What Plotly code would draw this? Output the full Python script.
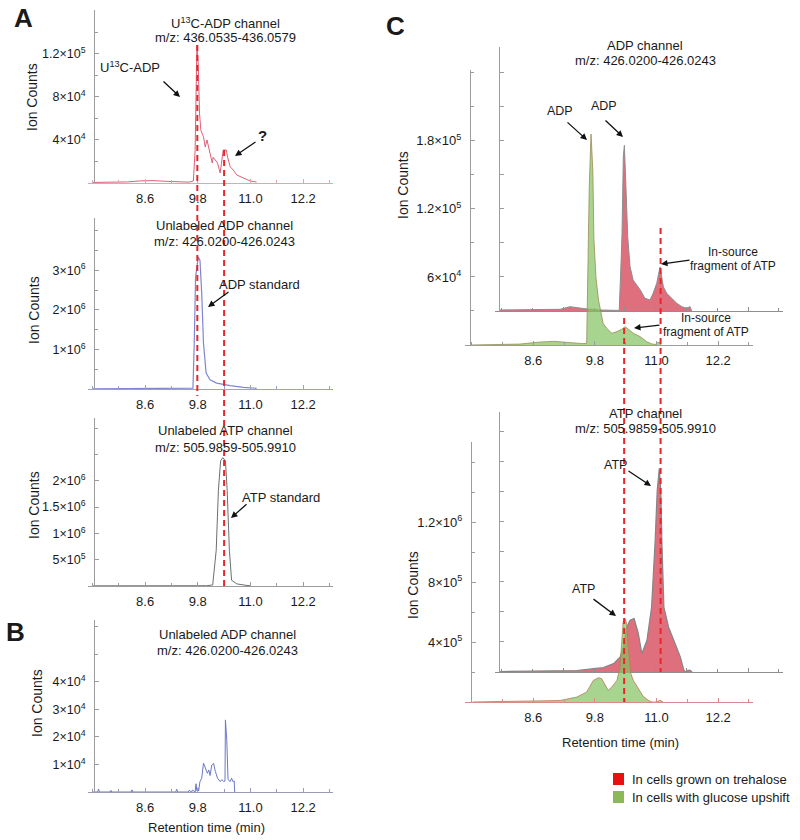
import plotly.graph_objects as go

W, H = 800, 840
def px(x): return x / W
def py(y): return 1 - y / H

# ---------------- data ----------------
x_ticks = [8.6, 9.8, 11.0, 12.2]
x_tick_text = ["8.6", "9.8", "11.0", "12.2"]
x_minor = [7.4, 8.0, 9.2, 10.4, 11.6, 12.8]

# Panel A1: U13C-ADP channel
a1_x = [7.40, 7.80, 8.20, 8.50, 8.80, 9.10, 9.40, 9.60, 9.70, 9.74, 9.78, 9.81, 9.84, 9.87, 9.93, 9.97,
        10.01, 10.08, 10.13, 10.15, 10.25, 10.31, 10.38, 10.45, 10.48, 10.54, 10.61, 10.69, 10.84, 10.99, 11.14]
a1_y = [500, 700, 1000, 2000, 2200, 1500, 900, 800, 1900, 30700, 128300, 111600, 65000, 49000, 43000, 33500,
        40000, 28000, 18600, 24000, 18600, 9300, 30700, 30700, 24000, 15000, 12000, 7400, 4600, 1900, 900]

# Panel A2: unlabeled ADP channel (ADP standard)
a2_x = [7.40, 8.50, 9.60, 9.69, 9.72, 9.75, 9.81, 9.85, 9.89, 9.93, 9.99, 10.08, 10.23, 10.54, 10.84, 11.14]
a2_y = [5000, 8000, 10000, 20000, 1160000, 2820000, 3330000, 3250000, 2420000, 1160000, 400000, 230000,
        150000, 83000, 43000, 18000]

# Panel A3: unlabeled ATP channel (ATP standard)
a3_x = [7.40, 9.00, 10.00, 10.14, 10.22, 10.27, 10.32, 10.37, 10.43, 10.47, 10.52, 10.57, 10.69, 10.92, 11.00]
a3_y = [3000, 4000, 5000, 20000, 680000, 1820000, 2380000, 2440000, 2380000, 1820000, 680000, 110000,
        40000, 10000, 5000]

# Panel B: unlabeled ADP channel
b_x = [7.40, 7.52, 7.54, 7.56, 7.80, 7.82, 7.84, 8.28, 8.30, 8.32, 9.30, 9.32, 9.34, 9.58, 9.60, 9.66, 9.68,
       9.74, 9.76, 9.78, 9.80, 9.82, 9.85, 9.89, 9.93, 9.97, 10.02, 10.05, 10.08, 10.12, 10.16, 10.20, 10.25,
       10.31, 10.35, 10.39, 10.42, 10.43, 10.46, 10.49, 10.54, 10.57, 10.60, 10.63, 10.64]
b_y = [0, 0, 1100, 0, 0, 600, 0, 0, 800, 0, 0, 1000, 0, 0, 600, 0, 700,
       0, 3000, 500, 1500, 400, 3800, 5000, 10500, 8500, 6800, 8000, 6000, 9800, 10400, 7500, 5000,
       3800, 4500, 3800, 4000, 26200, 19000, 4500, 3800, 5000, 3800, 4000, 0]

# Panel C top: ADP channel
c1_green_x = [7.37, 7.90, 8.34, 8.70, 8.83, 9.00, 9.12, 9.41, 9.57, 9.64, 9.66, 9.69, 9.725, 9.76, 9.78, 9.82,
              9.87, 9.91, 9.96, 10.03, 10.13, 10.23, 10.32, 10.39, 10.45, 10.55, 10.68, 10.81, 10.91, 10.99,
              11.03, 11.05, 11.07, 11.09]
c1_green_y = [0, 500, 800, 2500, 2900, 3200, 2800, 1500, 1200, 1500, 51000, 139000, 186000, 154000, 95000,
              60000, 39700, 29400, 19100, 14700, 10300, 11800, 13800, 16200, 13800, 10300, 7400, 2900, 900,
              500, 2500, 2000, 2500, 0]
c1_red_x = [7.37, 7.95, 8.54, 8.73, 8.92, 9.06, 9.31, 9.69, 9.72, 9.744, 9.77, 9.79, 9.82, 9.855, 9.90, 9.96,
            10.03, 10.10, 10.19, 10.29, 10.35, 10.42, 10.485, 10.55, 10.615, 10.71, 10.81, 10.91, 11.00,
            11.07, 11.10]
c1_red_y = [900, 900, 1500, 3800, 2600, 1800, 900, 500, 36000, 67000, 136000, 146000, 110000, 65700, 39300,
            27300, 22900, 18500, 11200, 9700, 15600, 24400, 38800, 21200, 15600, 11200, 6800, 3800, 2400,
            3800, 0]

# Panel C bottom: ATP channel
c2_green_x = [7.42, 8.20, 8.73, 9.12, 9.45, 9.64, 9.77, 9.87, 9.93, 10.00, 10.06, 10.13, 10.23, 10.29, 10.32,
              10.35, 10.39, 10.42, 10.45, 10.50, 10.55, 10.65, 10.74, 10.84, 10.91, 11.00, 11.07, 11.13]
c2_green_y = [0, 3000, 6000, 10000, 33000, 66700, 144000, 162000, 156000, 111000, 78000, 100000, 144000,
              233000, 411000, 533000, 555000, 522000, 367000, 189000, 144000, 89000, 38000, 11000, 0, 0,
              11000, 0]
c2_red_x = [7.37, 8.15, 8.86, 9.19, 9.38, 9.58, 9.71, 9.77, 9.84, 9.90, 9.98, 10.06, 10.13, 10.23, 10.32,
            10.39, 10.43, 10.47, 10.50, 10.52, 10.56, 10.65, 10.78, 10.88, 10.95, 10.99, 11.03, 11.07, 11.11]
c2_red_y = [3000, 5000, 10000, 22000, 29000, 56000, 100000, 167000, 300000, 345000, 356000, 260000, 122000,
            211000, 433000, 878000, 1211000, 1356000, 1211000, 878000, 433000, 300000, 189000, 100000, 11000,
            0, 11000, 11000, 0]

# retention times marked with dashed lines
a_marks = [9.79, 10.40]
c_marks = [10.37, 11.08]

legend_names = ["In cells grown on trehalose", "In cells with glucose upshift"]

# ---------------- style ----------------
FONT = "Arial, Liberation Sans, sans-serif"
AX = "#9c9c9c"
TXT = "#1a1a1a"
RED_FILL = "rgba(215,70,90,0.78)"
GREEN_FILL = "rgba(130,195,95,0.70)"
DASH_RED = "#e8262a"

fig = go.Figure()

def line_trace(x, y, xa, ya, color, width=1.0):
    fig.add_trace(go.Scatter(x=x, y=y, xaxis=xa, yaxis=ya, mode="lines",
                             line=dict(color=color, width=width), showlegend=False, hoverinfo="skip"))

def fill_trace(x, y, xa, ya, fillcolor, linecolor, width=1.0):
    fig.add_trace(go.Scatter(x=x, y=y, xaxis=xa, yaxis=ya, mode="lines", fill="tozeroy",
                             fillcolor=fillcolor, line=dict(color=linecolor, width=width),
                             showlegend=False, hoverinfo="skip"))

line_trace(a1_x, a1_y, "x", "y", "#dd5f7a", 1.0)
line_trace(a2_x, a2_y, "x2", "y2", "#7f86d0", 1.2)
line_trace(a3_x, a3_y, "x3", "y3", "#6e6e6e", 1.0)
line_trace(b_x, b_y, "x4", "y4", "#6b78c8", 1.0)
fill_trace(c1_red_x, c1_red_y, "x5", "y5", RED_FILL, "#8c8c8c", 1.0)
fill_trace(c1_green_x, c1_green_y, "x6", "y6", GREEN_FILL, "#9a8a55", 0.8)
fill_trace(c2_red_x, c2_red_y, "x7", "y7", RED_FILL, "#858585", 1.2)
fill_trace(c2_green_x, c2_green_y, "x8", "y8", GREEN_FILL, "#b57a55", 0.8)

A_RANGE = [7.30, 12.88]
C_RANGE = [7.27, 12.88]

def xaxis(x0, x1, rng, anchor, color=AX, labels=True):
    return dict(domain=[px(x0), px(x1)], range=rng, anchor=anchor, showline=True, linecolor=color,
                linewidth=1, ticks="inside", ticklen=4, tickcolor=color, tickmode="array",
                tickvals=x_ticks, ticktext=x_tick_text, showticklabels=labels,
                tickfont=dict(family=FONT, size=13, color=TXT),
                minor=dict(tickmode="array", tickvals=x_minor, ticks="inside", ticklen=3, tickcolor=color),
                showgrid=False, zeroline=False, fixedrange=True, ticklabelstandoff=3)

def yaxis(ybot, ytop, rng, pos, vals, texts, minor_vals, labels=True, size=12.5, color=AX):
    return dict(domain=[py(ybot), py(ytop)], range=rng, anchor="free", position=px(pos),
                showline=True, linecolor=color, linewidth=1, ticks="inside", ticklen=4, tickcolor=color,
                tickmode="array", tickvals=vals, ticktext=texts, showticklabels=labels,
                tickfont=dict(family=FONT, size=size, color=TXT),
                minor=dict(tickmode="array", tickvals=minor_vals, ticks="inside", ticklen=3, tickcolor=color),
                showgrid=False, zeroline=False, fixedrange=True, ticklabelstandoff=6)

def sci(m, e):
    return f"{m}×10<sup>{e}</sup>"

layout = dict(
    width=W, height=H, margin=dict(l=0, r=0, t=0, b=0),
    paper_bgcolor="white", plot_bgcolor="rgba(0,0,0,0)",
    font=dict(family=FONT, color=TXT), showlegend=False,
    xaxis=xaxis(88, 333, A_RANGE, "y", "#e3a3b2"),
    yaxis=yaxis(183, 10, [0, 160900], 94, [40000, 80000, 120000],
                [sci(4, 4), sci(8, 4), sci(1.2, 5)], [20000, 60000, 100000, 140000]),
    xaxis2=xaxis(88, 333, A_RANGE, "y2", "#9ea0c8"),
    yaxis2=yaxis(389, 218, [0, 4318000], 94, [1e6, 2e6, 3e6],
                 [sci(1, 6), sci(2, 6), sci(3, 6)], [5e5, 1.5e6, 2.5e6, 3.5e6, 4e6]),
    xaxis3=xaxis(88, 333, A_RANGE, "y3"),
    yaxis3=yaxis(586, 418, [0, 3194000], 94, [5e5, 1e6, 1.5e6, 2e6],
                 [sci(5, 5), sci(1, 6), sci(1.5, 6), sci(2, 6)], [2.5e6, 3e6]),
    xaxis4=xaxis(88, 333, A_RANGE, "y4", "#9a9cb8"),
    yaxis4=yaxis(792, 620, [0, 62500], 94, [1e4, 2e4, 3e4, 4e4],
                 [sci(1, 4), sci(2, 4), sci(3, 4), sci(4, 4)], [5e4, 6e4]),
    xaxis5=xaxis(495, 783, C_RANGE, "y5", "#8e8e8e", labels=False),
    yaxis5=yaxis(311, 47, [0, 232800], 499, [3e4, 6e4, 9e4, 1.2e5, 1.5e5, 1.8e5, 2.1e5],
                 [""] * 7, [], labels=False),
    xaxis6=xaxis(465, 753, C_RANGE, "y6"),
    yaxis6=yaxis(345, 70, [0, 242500], 470, [6e4, 1.2e5, 1.8e5],
                 [sci(6, 4), sci(1.2, 5), sci(1.8, 5)], [3e4, 9e4, 1.5e5, 2.1e5, 2.4e5], size=13),
    xaxis7=xaxis(495, 783, C_RANGE, "y7", "#8e8e8e", labels=False),
    yaxis7=yaxis(672, 412, [0, 1733000], 499, [2e5, 4e5, 6e5, 8e5, 1e6, 1.2e6, 1.4e6, 1.6e6],
                 [""] * 8, [], labels=False),
    xaxis8=xaxis(465, 753, C_RANGE, "y8", "#d98a8a"),
    yaxis8=yaxis(702, 442, [0, 1735000], 471, [4e5, 8e5, 1.2e6],
                 [sci(4, 5), sci(8, 5), sci(1.2, 6)], [2e5, 6e5, 1e6, 1.4e6, 1.6e6], size=13),
)
fig.update_layout(**layout)

# dashed retention-time markers
shapes = []
for xv, y0, y1 in [(a_marks[0], 45, 396), (a_marks[1], 150, 587)]:
    shapes.append(dict(type="line", xref="x", yref="paper", x0=xv, x1=xv, y0=py(y0), y1=py(y1),
                       line=dict(color=DASH_RED, width=2, dash="6px,4px"), layer="above"))
for xv, y0, y1 in [(c_marks[0], 318, 702), (c_marks[1], 228, 672)]:
    shapes.append(dict(type="line", xref="x6", yref="paper", x0=xv, x1=xv, y0=py(y0), y1=py(y1),
                       line=dict(color=DASH_RED, width=2, dash="6px,4px"), layer="above"))
# legend swatches
for (yy, col) in [(773, "#e81010"), (791, "#8db85a")]:
    shapes.append(dict(type="rect", xref="paper", yref="paper", x0=px(613), x1=px(624),
                       y0=py(yy + 12), y1=py(yy), fillcolor=col, line=dict(width=0)))
fig.update_layout(shapes=shapes)

ann = []
def text(x, y, s, size=13, bold=False, angle=0, xanchor="center"):
    ann.append(dict(x=px(x), y=py(y), xref="paper", yref="paper", text=(f"<b>{s}</b>" if bold else s),
                    showarrow=False, xanchor=xanchor, yanchor="middle", textangle=angle,
                    font=dict(family=FONT, size=size, color=TXT)))

def arrow(x0, y0, x1, y1):
    ann.append(dict(x=px(x1), y=py(y1), xref="paper", yref="paper", ax=x0 - x1, ay=y0 - y1,
                    text="", showarrow=True, arrowhead=2, arrowsize=1, arrowwidth=1.3,
                    arrowcolor="#111111", standoff=0, startstandoff=0))

# panel letters
text(23, 18, "A", 26, bold=True)
text(15, 632, "B", 26, bold=True)
text(395, 26, "C", 26, bold=True)

# A1
text(225, 23, "U<sup>13</sup>C-ADP channel")
text(226, 38, "m/z: 436.0535-436.0579")
text(130, 67, "U<sup>13</sup>C-ADP")
arrow(162, 80, 180, 97)
text(262, 136, "?", 15, bold=True)
arrow(257, 141, 235, 156)
text(32, 97, "Ion Counts", 14, angle=-90)

# A2
text(224, 226, "Unlabeled ADP channel")
text(224, 242, "m/z: 426.0200-426.0243")
text(259, 284, "ADP standard")
arrow(230, 291, 208, 307)
text(34, 310, "Ion Counts", 14, angle=-90)

# A3
text(226, 431, "Unlabeled ATP channel")
text(225, 447, "m/z: 505.9859-505.9910")
text(281, 497, "ATP standard")
arrow(248, 503, 231, 518)
text(34, 505, "Ion Counts", 14, angle=-90)

# B
text(227, 634, "Unlabeled ADP channel")
text(227, 650, "m/z: 426.0200-426.0243")
text(37, 703, "Ion Counts", 14, angle=-90)
text(207, 827, "Retention time (min)")

# C top
text(645, 45, "ADP channel")
text(645, 61, "m/z: 426.0200-426.0243")
text(560, 111, "ADP", 12.5)
arrow(566, 121, 587, 140)
text(604, 106, "ADP", 12.5)
arrow(604, 119, 623, 137)
text(733, 252, "In-source", 12)
text(733, 266, "fragment of ATP", 12)
arrow(691, 260, 661, 264)
text(706, 318, "In-source", 12)
text(706, 332, "fragment of ATP", 12)
arrow(661, 325, 634, 328)
text(403, 185, "Ion Counts", 14, angle=-90)

# C bottom
text(645, 413, "ATP channel")
text(645, 429, "m/z: 505.9859-505.9910")
text(615, 465, "ATP", 12.5)
arrow(627, 470, 651, 486)
text(583, 589, "ATP", 12.5)
arrow(592, 598, 616, 616)
text(413, 585, "Ion Counts", 14, angle=-90)
text(620, 742, "Retention time (min)")

# legend text
text(630, 779, legend_names[0], 13, xanchor="left")
text(630, 797, legend_names[1], 13, xanchor="left")

fig.update_layout(annotations=ann)
fig.write_html("out.html", config={"displayModeBar": False},
               post_script="document.body.style.margin='0';document.body.style.overflow='hidden';")
